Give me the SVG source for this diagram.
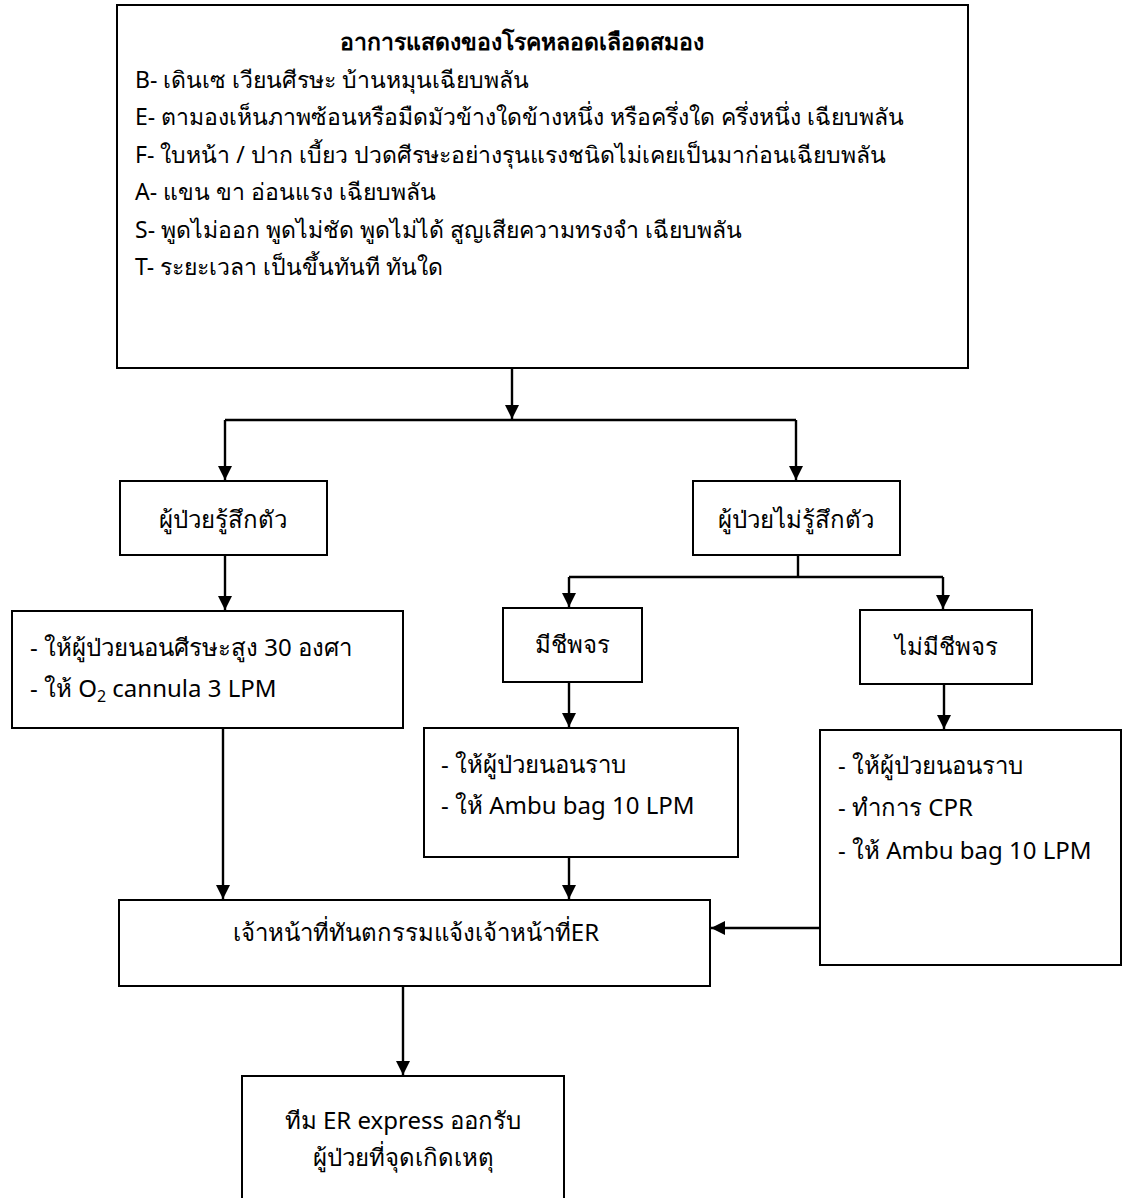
<svg xmlns="http://www.w3.org/2000/svg" width="1123" height="1198" viewBox="0 0 1123 1198">
<style>
.box{fill:#fff;stroke:#000;stroke-width:2}
.t{font-family:"Noto Sans","DejaVu Sans",sans-serif;font-size:24px;fill:#000}
.s{font-size:23px}
.c{text-anchor:middle}
.b{font-weight:bold}
.con{fill:none;stroke:#000;stroke-width:2.4}
</style>
<defs>
<marker id="ah" markerUnits="userSpaceOnUse" markerWidth="16" markerHeight="16" refX="14" refY="7" orient="auto">
<path d="M0,0 L14,7 L0,14 z" fill="#000"/>
</marker>
</defs>
<rect width="1123" height="1198" fill="#fff"/>
<g id="connectors">
<path class="con" d="M512,368 V419" marker-end="url(#ah)"/>
<path class="con" d="M225,420 H796"/>
<path class="con" d="M225,420 V480" marker-end="url(#ah)"/>
<path class="con" d="M796,420 V480" marker-end="url(#ah)"/>
<path class="con" d="M225,555 V610" marker-end="url(#ah)"/>
<path class="con" d="M798,555 V577"/>
<path class="con" d="M569,577 H943"/>
<path class="con" d="M569,577 V607" marker-end="url(#ah)"/>
<path class="con" d="M943,577 V609" marker-end="url(#ah)"/>
<path class="con" d="M569,682 V727" marker-end="url(#ah)"/>
<path class="con" d="M944,684 V729" marker-end="url(#ah)"/>
<path class="con" d="M223,713 V899" marker-end="url(#ah)"/>
<path class="con" d="M569,857 V899" marker-end="url(#ah)"/>
<path class="con" d="M820,928 H711" marker-end="url(#ah)"/>
<path class="con" d="M403,986 V1075" marker-end="url(#ah)"/>
</g>
<g id="symptoms">
<rect class="box" x="117" y="5" width="851" height="363"/>
<text class="t s c b" x="522" y="50">อาการแสดงของโรคหลอดเลือดสมอง</text>
<text class="t s" x="135" y="88">B- เดินเซ เวียนศีรษะ บ้านหมุนเฉียบพลัน</text>
<text class="t s" x="135" y="125">E- ตามองเห็นภาพซ้อนหรือมืดมัวข้างใดข้างหนึ่ง หรือครึ่งใด ครึ่งหนึ่ง เฉียบพลัน</text>
<text class="t s" x="135" y="163">F- ใบหน้า / ปาก เบี้ยว ปวดศีรษะอย่างรุนแรงชนิดไม่เคยเป็นมาก่อนเฉียบพลัน</text>
<text class="t s" x="135" y="200">A- แขน ขา อ่อนแรง เฉียบพลัน</text>
<text class="t s" x="135" y="238">S- พูดไม่ออก พูดไม่ชัด พูดไม่ได้ สูญเสียความทรงจำ เฉียบพลัน</text>
<text class="t s" x="135" y="275">T- ระยะเวลา เป็นขึ้นทันที ทันใด</text>
</g>
<g id="conscious">
<rect class="box" x="120" y="481" width="207" height="74"/>
<text class="t c" x="223" y="528">ผู้ป่วยรู้สึกตัว</text>
</g>
<g id="unconscious">
<rect class="box" x="693" y="481" width="207" height="74"/>
<text class="t c" x="796" y="528">ผู้ป่วยไม่รู้สึกตัว</text>
</g>
<g id="conscious-care">
<rect class="box" x="12" y="611" width="391" height="117"/>
<text class="t" x="30" y="656">- ให้ผู้ป่วยนอนศีรษะสูง 30 องศา</text>
<text class="t" x="30" y="697">- ให้ O<tspan font-size="16" dy="5">2</tspan><tspan dy="-5"> cannula 3 LPM</tspan></text>
</g>
<g id="pulse">
<rect class="box" x="503" y="608" width="139" height="74"/>
<text class="t c" x="572" y="653">มีชีพจร</text>
</g>
<g id="no-pulse">
<rect class="box" x="860" y="610" width="172" height="74"/>
<text class="t c" x="946" y="655">ไม่มีชีพจร</text>
</g>
<g id="pulse-care">
<rect class="box" x="424" y="728" width="314" height="129"/>
<text class="t" x="441" y="773">- ให้ผู้ป่วยนอนราบ</text>
<text class="t" x="441" y="814">- ให้ Ambu bag 10 LPM</text>
</g>
<g id="no-pulse-care">
<rect class="box" x="820" y="730" width="301" height="235"/>
<text class="t" x="838" y="774">- ให้ผู้ป่วยนอนราบ</text>
<text class="t" x="838" y="816">- ทำการ CPR</text>
<text class="t" x="838" y="859">- ให้ Ambu bag 10 LPM</text>
</g>
<g id="dental-staff">
<rect class="box" x="119" y="900" width="591" height="86"/>
<text class="t c" x="416" y="941">เจ้าหน้าที่ทันตกรรมแจ้งเจ้าหน้าที่ER</text>
</g>
<g id="er-express">
<rect class="box" x="242" y="1076" width="322" height="130"/>
<text class="t c" x="403" y="1129">ทีม ER express ออกรับ</text>
<text class="t c" x="403" y="1166">ผู้ป่วยที่จุดเกิดเหตุ</text>
</g>
</svg>
